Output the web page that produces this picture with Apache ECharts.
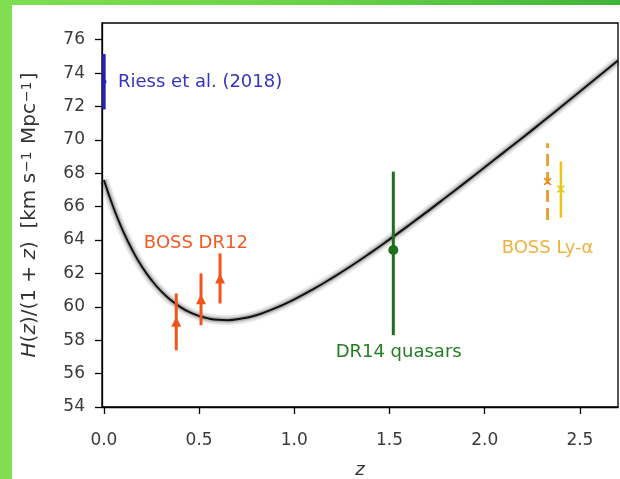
<!DOCTYPE html>
<html>
<head>
<meta charset="utf-8">
<script src="https://cdn.jsdelivr.net/npm/echarts@6/dist/echarts.min.js"></script>
<style>
  html, body { margin: 0; padding: 0; }
  #frame {
    position: relative; width: 620px; height: 479px; overflow: hidden;
    background: linear-gradient(90deg, #80de50 0%, #6ad248 50%, #3fb43a 100%);
  }
  #chart {
    position: absolute; left: 12px; top: 5px; width: 608px; height: 474px;
    background: #ffffff;
  }
</style>
</head>
<body>
<div id="frame"><div id="chart"></div></div>
<script>
// Expansion-rate model curve H(z)/(1+z) sampled in redshift
const curveZ = [0, 0.05, 0.1, 0.15, 0.2, 0.25, 0.3, 0.35, 0.4, 0.45, 0.5, 0.55, 0.6, 0.65, 0.7,
                0.8, 0.9, 1.0, 1.1, 1.2, 1.3, 1.4, 1.5, 1.6, 1.7, 1.8, 1.9, 2.0, 2.1, 2.2, 2.3,
                2.4, 2.5, 2.6, 2.7];
const curveH = [67.60, 65.95, 64.55, 63.38, 62.40, 61.60, 60.94, 60.42, 60.00, 59.68, 59.45, 59.30,
                59.22, 59.20, 59.25, 59.50, 59.92, 60.45, 61.06, 61.74, 62.46, 63.23, 64.04, 64.87,
                65.72, 66.59, 67.47, 68.36, 69.25, 70.14, 71.05, 71.97, 72.90, 73.82, 74.75];

// Local distance ladder
const riessZ = [0.0];
const riessH = [73.48];
const riessErr = [1.66];

// BOSS DR12 galaxy clustering
const dr12Z = [0.38, 0.51, 0.61];
const dr12H = [59.1, 60.45, 61.7];
const dr12Err = [1.7, 1.55, 1.5];

// eBOSS DR14 quasars
const qsoZ = [1.52];
const qsoH = [63.4];
const qsoErrLo = [5.1];
const qsoErrHi = [4.7];

// BOSS Lyman-alpha forest (auto and cross correlation)
const lyaZ = [2.33, 2.40];
const lyaH = [67.5, 67.05];
const lyaErrLo = [2.3, 1.7];
const lyaErrHi = [2.3, 1.65];

// Axis ticks
const xTicks = [0.0, 0.5, 1.0, 1.5, 2.0, 2.5];
const yTicks = [54, 56, 58, 60, 62, 64, 66, 68, 70, 72, 74, 76];

const FONT = 'DejaVu Sans';

function errorBars(zs, hs, lo, hi, color, width, dash) {
  return {
    type: 'custom',
    silent: true,
    z: 4,
    encode: { x: 0, y: [1, 2] },
    data: zs.map((z, i) => [z, hs[i] - lo[i], hs[i] + hi[i]]),
    renderItem(params, api) {
      const a = api.coord([api.value(0), api.value(1)]);
      const b = api.coord([api.value(0), api.value(2)]);
      return {
        type: 'line',
        shape: { x1: a[0], y1: a[1], x2: b[0], y2: b[1] },
        style: { stroke: color, lineWidth: width, lineDash: dash || null }
      };
    }
  };
}

function markers(zs, hs, symbol, size, color) {
  return {
    type: 'scatter',
    silent: true,
    z: 5,
    symbol: symbol,
    symbolSize: size,
    itemStyle: { color: color, opacity: 1 },
    data: zs.map((z, i) => [z, hs[i]])
  };
}

function annotation(text, z, h, color, align) {
  return {
    type: 'scatter',
    silent: true,
    z: 6,
    symbolSize: 0,
    itemStyle: { opacity: 1 },
    data: [[z, h]],
    label: {
      show: true, position: 'inside', formatter: text, color: color,
      fontFamily: FONT, fontSize: 18, align: align || 'center', verticalAlign: 'middle'
    }
  };
}

const XMARK = 'path://M0,1.4L1.4,0L5,3.6L8.6,0L10,1.4L6.4,5L10,8.6L8.6,10L5,6.4L1.4,10L0,8.6L3.6,5Z';
const curveData = curveZ.map((z, i) => [z, curveH[i]]);

const chart = echarts.init(document.getElementById('chart'), null, { renderer: 'canvas' });
chart.setOption({
  animation: false,
  backgroundColor: '#ffffff',
  grid: {
    left: 90, right: 2, top: 18, bottom: 72,
    outerBoundsMode: 'none', containLabel: false,
    show: true, borderColor: '#000', borderWidth: 1.3, backgroundColor: 'transparent'
  },
  xAxis: {
    type: 'value', min: -0.01, max: 2.7,
    name: 'z', nameLocation: 'middle', nameGap: 54,
    nameTextStyle: { fontFamily: FONT, fontSize: 18, fontStyle: 'italic', color: '#333' },
    axisLine: { show: true, onZero: false, lineStyle: { color: '#000', width: 1.3 } },
    axisTick: { show: true, length: 7, customValues: xTicks, lineStyle: { color: '#000', width: 1.3 } },
    axisLabel: {
      customValues: xTicks, margin: 25, color: '#3a3a3a', fontFamily: FONT, fontSize: 17,
      formatter: v => v.toFixed(1)
    },
    splitLine: { show: false }
  },
  yAxis: {
    type: 'value', min: 54, max: 77,
    name: '{i|H}({i|z})/(1 + {i|z})  [km s{sup|\u22121} Mpc{sup|\u22121}]',
    nameLocation: 'middle', nameRotate: 90, nameGap: 62,
    nameTextStyle: {
      fontFamily: FONT, fontSize: 20, color: '#333',
      rich: {
        i: { fontFamily: FONT, fontSize: 20, fontStyle: 'italic', color: '#333' },
        sup: { fontFamily: FONT, fontSize: 14, color: '#333', verticalAlign: 'top', padding: [0, 1, 0, 1] }
      }
    },
    axisLine: { show: true, onZero: false, lineStyle: { color: '#000', width: 1.3 } },
    axisTick: { show: true, length: 7, customValues: yTicks, lineStyle: { color: '#000', width: 1.3 } },
    axisLabel: {
      customValues: yTicks, margin: 17, color: '#3a3a3a', fontFamily: FONT, fontSize: 17,
      formatter: v => String(Math.round(v))
    },
    splitLine: { show: false }
  },
  series: [
    // soft uncertainty halo around the model curve
    {
      type: 'line', data: curveData, smooth: true, symbol: 'none', silent: true, z: 1,
      lineStyle: { color: 'rgba(0,0,0,0.06)', width: 10 }
    },
    {
      type: 'line', data: curveData, smooth: true, symbol: 'none', silent: true, z: 1,
      lineStyle: { color: 'rgba(0,0,0,0.14)', width: 5 }
    },
    {
      type: 'line', data: curveData, smooth: true, symbol: 'none', silent: true, z: 2,
      lineStyle: { color: '#111', width: 2, shadowColor: 'rgba(0,0,0,0.5)', shadowBlur: 4 }
    },
    // measurements
    errorBars(riessZ, riessH, riessErr, riessErr, '#2323b0', 3.5),
    markers(riessZ, riessH, 'circle', 5, '#2323b0'),
    errorBars(dr12Z, dr12H, dr12Err, dr12Err, '#f2541b', 3),
    markers(dr12Z, dr12H, 'triangle', 10, '#f2541b'),
    errorBars(qsoZ, qsoH, qsoErrLo, qsoErrHi, '#1e6e1e', 3),
    markers(qsoZ, qsoH, 'circle', 10, '#1e6e1e'),
    errorBars(lyaZ.slice(0, 1), lyaH.slice(0, 1), lyaErrLo.slice(0, 1), lyaErrHi.slice(0, 1), '#e8a03c', 3, [12, 6]),
    markers(lyaZ.slice(0, 1), lyaH.slice(0, 1), XMARK, 8, '#f08a1a'),
    errorBars(lyaZ.slice(1), lyaH.slice(1), lyaErrLo.slice(1), lyaErrHi.slice(1), '#f2c40f', 2.5),
    markers(lyaZ.slice(1), lyaH.slice(1), XMARK, 8, '#d8cc20'),
    // dataset labels
    annotation('Riess et al. (2018)', 0.074, 73.47, '#3434c0', 'left'),
    annotation('BOSS DR12', 0.483, 63.83, '#f05a25'),
    annotation('DR14 quasars', 1.548, 57.3, '#237d23'),
    annotation('BOSS Ly-\u03B1', 2.33, 63.53, '#f0b040')
  ]
});
</script>
</body>
</html>
